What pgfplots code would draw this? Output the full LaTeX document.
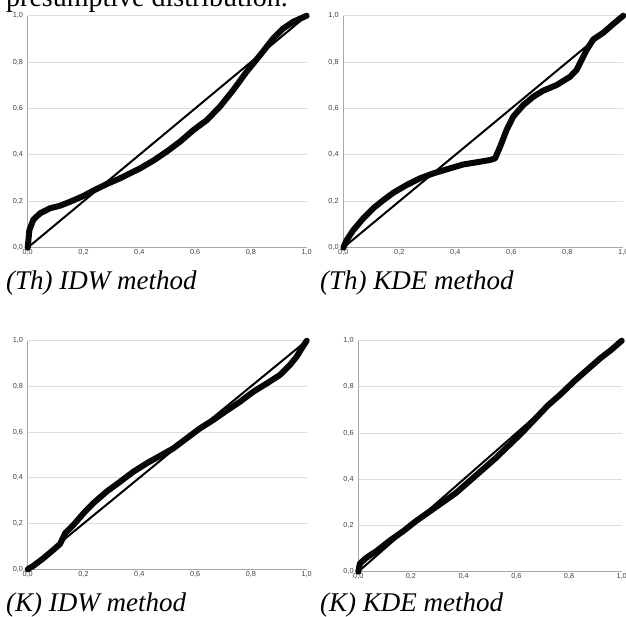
\documentclass[border=0pt]{standalone}
\usepackage{fontspec}
\setmainfont{Liberation Serif}
\setsansfont{Liberation Sans}
\usepackage{pgfplots}
\pgfplotsset{compat=1.18}

\definecolor{axisgray}{HTML}{A8A8A8}
\definecolor{gridgray}{HTML}{DDDDDD}
\definecolor{ticktext}{HTML}{404040}
\definecolor{curve}{HTML}{050608}

\pgfplotsset{ppstyle/.style={
  scale only axis,
  xmin=0, xmax=1, ymin=0, ymax=1,
  axis x line*=bottom, axis y line*=left,
  axis line style={axisgray, line width=0.8pt},
  xtick={0,0.2,0.4,0.6,0.8,1},
  ytick={0,0.2,0.4,0.6,0.8,1},
  ymajorgrids, grid style={gridgray, line width=0.9pt},
  major tick length=0pt,
  tick label style={font=\fontsize{7.3}{8}\selectfont\sffamily, text=ticktext},
  /pgf/number format/fixed,
  /pgf/number format/fixed zerofill,
  /pgf/number format/precision=1,
  /pgf/number format/use comma,
  /pgf/number format/assume math mode=true,
  xticklabel style={inner sep=1pt, yshift=-1pt},
  yticklabel style={inner sep=1pt, xshift=-3.5pt},
  clip=false,
}}
\pgfplotsset{diag/.style={black, line width=2pt},
  pp/.style={curve, line width=6pt, line join=round, line cap=round}}

\begin{document}
\begin{tikzpicture}
\path[use as bounding box] (0,0) rectangle (626pt,617pt);

\node[anchor=base west, inner sep=0pt, font=\fontsize{28}{30}\selectfont] at (6pt,610.5pt) {presumptive distribution.};

% (Th) IDW
\begin{axis}[ppstyle, at={(27.7pt,369.3pt)}, anchor=south west, width=279pt, height=232pt]
\addplot[diag] coordinates {(0,0) (1,1)};
\addplot[pp] coordinates {
(0,0) (0.006,0.076) (0.02,0.12) (0.044,0.148) (0.08,0.17) (0.116,0.181)
(0.152,0.198) (0.2,0.223) (0.235,0.246) (0.283,0.274) (0.331,0.299)
(0.403,0.342) (0.45,0.375) (0.498,0.414) (0.546,0.457) (0.594,0.507)
(0.642,0.55) (0.689,0.608) (0.737,0.68) (0.785,0.759) (0.833,0.83)
(0.88,0.902) (0.916,0.945) (0.952,0.974) (1,1)};
\end{axis}

% (Th) KDE
\begin{axis}[ppstyle, at={(343.3pt,369.3pt)}, anchor=south west, width=280pt, height=232pt]
\addplot[diag] coordinates {(0,0) (1,1)};
\addplot[pp] coordinates {
(0,0) (0.012,0.033) (0.036,0.076) (0.071,0.126) (0.107,0.17) (0.143,0.205)
(0.179,0.237) (0.226,0.27) (0.274,0.299) (0.321,0.32) (0.381,0.342)
(0.429,0.359) (0.476,0.368) (0.524,0.378) (0.542,0.385) (0.56,0.435)
(0.583,0.507) (0.607,0.565) (0.643,0.615) (0.679,0.651) (0.714,0.677)
(0.762,0.701) (0.81,0.737) (0.833,0.766) (0.851,0.809) (0.869,0.852)
(0.893,0.898) (0.929,0.927) (0.964,0.964) (1,1)};
\end{axis}

% (K) IDW
\begin{axis}[ppstyle, at={(27.7pt,47.7pt)}, anchor=south west, width=279pt, height=228.6pt]
\addplot[diag] coordinates {(0,0) (1,1)};
\addplot[pp] coordinates {
(0,0) (0.02,0.015) (0.056,0.048) (0.092,0.085) (0.116,0.111) (0.134,0.157)
(0.164,0.194) (0.2,0.245) (0.235,0.289) (0.283,0.34) (0.331,0.383)
(0.379,0.427) (0.427,0.464) (0.474,0.496) (0.522,0.529) (0.57,0.573)
(0.618,0.617) (0.665,0.653) (0.713,0.694) (0.761,0.733) (0.809,0.777)
(0.857,0.813) (0.904,0.85) (0.94,0.894) (0.964,0.93) (0.982,0.966) (1,1)};
\end{axis}

% (K) KDE
\begin{axis}[ppstyle, at={(358.3pt,45.3pt)}, anchor=south west, width=263.4pt, height=231pt]
\addplot[diag] coordinates {(0,0) (1,1)};
\addplot[pp] coordinates {
(0,0) (0.006,0.035) (0.03,0.06) (0.07,0.09) (0.12,0.135) (0.17,0.175)
(0.22,0.22) (0.27,0.26) (0.32,0.3) (0.37,0.34) (0.42,0.39) (0.47,0.44)
(0.52,0.49) (0.57,0.545) (0.62,0.6) (0.67,0.66) (0.72,0.72) (0.77,0.77)
(0.82,0.825) (0.87,0.875) (0.92,0.925) (0.96,0.96) (1,1)};
\end{axis}

\node[anchor=base west, inner sep=0pt, font=\fontsize{27}{30}\selectfont\itshape] at (6pt,327pt) {(Th) IDW method};
\node[anchor=base west, inner sep=0pt, font=\fontsize{27}{30}\selectfont\itshape] at (320pt,327pt) {(Th) KDE method};
\node[anchor=base west, inner sep=0pt, font=\fontsize{27}{30}\selectfont\itshape] at (6pt,5.3pt) {(K) IDW method};
\node[anchor=base west, inner sep=0pt, font=\fontsize{27}{30}\selectfont\itshape] at (320pt,5.3pt) {(K) KDE method};
\end{tikzpicture}
\end{document}
